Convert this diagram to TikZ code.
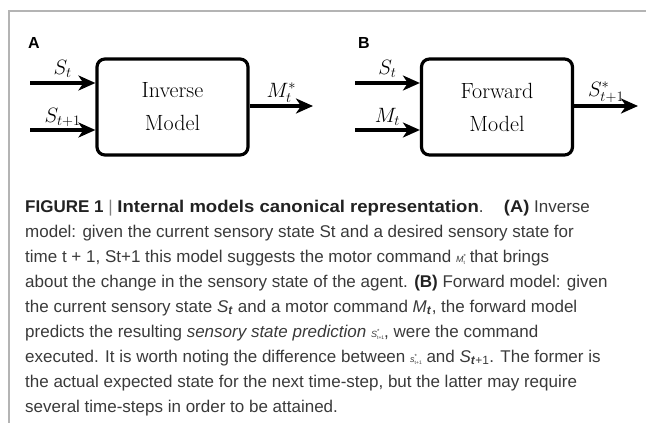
\documentclass[tikz,border=0pt]{standalone}
\usepackage{fontspec}
\usepackage{graphicx}
\usetikzlibrary{arrows.meta}
\newfontfamily\capfont{Liberation Sans}
\definecolor{captext}{HTML}{3A3A3A}
\definecolor{capbold}{HTML}{222222}
\definecolor{framegray}{HTML}{B4B4B4}
\newcommand{\tinyM}[2]{{\fontsize{9}{9}\selectfont\textit{#1}\raisebox{0.35em}{\fontsize{6}{6}\selectfont *}\kern-0.25em\raisebox{-0.25em}{\fontsize{5}{5}\selectfont #2}}}
\newcommand{\capb}[2][1.0]{{\color{capbold}\bfseries\scalebox{#1}[1]{#2}}}
\tikzset{
  modelbox/.style={draw, line width=3.2pt, rounded corners=8pt, minimum width=151pt, minimum height=96pt, inner sep=0pt, align=center, font=\fontsize{22}{33}\selectfont},
  sig/.style={line width=4pt, -{Stealth[length=17pt, width=15pt, inset=5pt]}},
  siglab/.style={anchor=base, yshift=9pt, inner sep=0pt, font=\fontsize{21}{21}\selectfont},
  panel/.style={anchor=base west, inner sep=0pt, font=\capfont\bfseries\fontsize{16}{16}\selectfont},
}
\begin{document}
\begin{tikzpicture}[x=1pt, y=-1pt]
\useasboundingbox (0,0) rectangle (646,423);
\draw[framegray, line width=1.5pt] (646,11) -- (9,11) -- (9,423);
% Panel A
\node[panel] (la) at (28,48) {A};
\node[modelbox] (inv) at (172.5,107) {Inverse\\Model};
\coordinate (a1) at (30,83);
\coordinate (a2) at (30,130);
\coordinate (ao) at (313,106);
\draw[sig] (a1) -- (a1 -| inv.west) node[siglab, midway] {$S_t$};
\draw[sig] (a2) -- (a2 -| inv.west) node[siglab, midway, yshift=-1pt] {$S_{t+1}$};
\draw[sig] (ao -| inv.east) -- (ao) node[siglab, midway] {$M_t^*$};
% Panel B
\node[panel] (lb) at (358,48) {B};
\node[modelbox] (fwd) at (497,107) {Forward\\Model};
\coordinate (b1) at (355,83);
\coordinate (b2) at (355,130);
\coordinate (bo) at (638,106);
\draw[sig] (b1) -- (b1 -| fwd.west) node[siglab, midway] {$S_t$};
\draw[sig] (b2) -- (b2 -| fwd.west) node[siglab, midway, yshift=-1pt] {$M_t$};
\draw[sig] (bo -| fwd.east) -- (bo) node[siglab, midway, yshift=1pt] {$S_{t+1}^*$};
% Caption
\node[anchor=base west, inner sep=0pt, align=left, text=captext,
      font=\capfont\fontsize{17}{25}\selectfont] (cap) at (25,412)
{\capb{FIGURE 1} {\color{gray}|} \capb[1.09]{Internal models canonical representation}.\hspace{14pt} \capb[1.08]{(A)} Inverse\\
model: given the current sensory state St and a desired sensory state for\\
time t + 1, St+1 this model suggests the motor command \tinyM{M}{t} that brings\\
about the change in the sensory state of the agent. \capb{(B)} Forward model: given\\
the current sensory state \textit{S}\textsubscript{\textbf{\textit{t}}} and a motor command \textit{M}\textsubscript{\textbf{\textit{t}}}, the forward model\\
predicts the resulting \textit{sensory state prediction} \tinyM{S}{t+1}, were the command\\
executed. It is worth noting the difference between \tinyM{s}{t+1} and \textit{S}\textsubscript{\textbf{\textit{t}}+1}. The former is\\
the actual expected state for the next time-step, but the latter may require\\
several time-steps in order to be attained.};
\end{tikzpicture}
\end{document}
